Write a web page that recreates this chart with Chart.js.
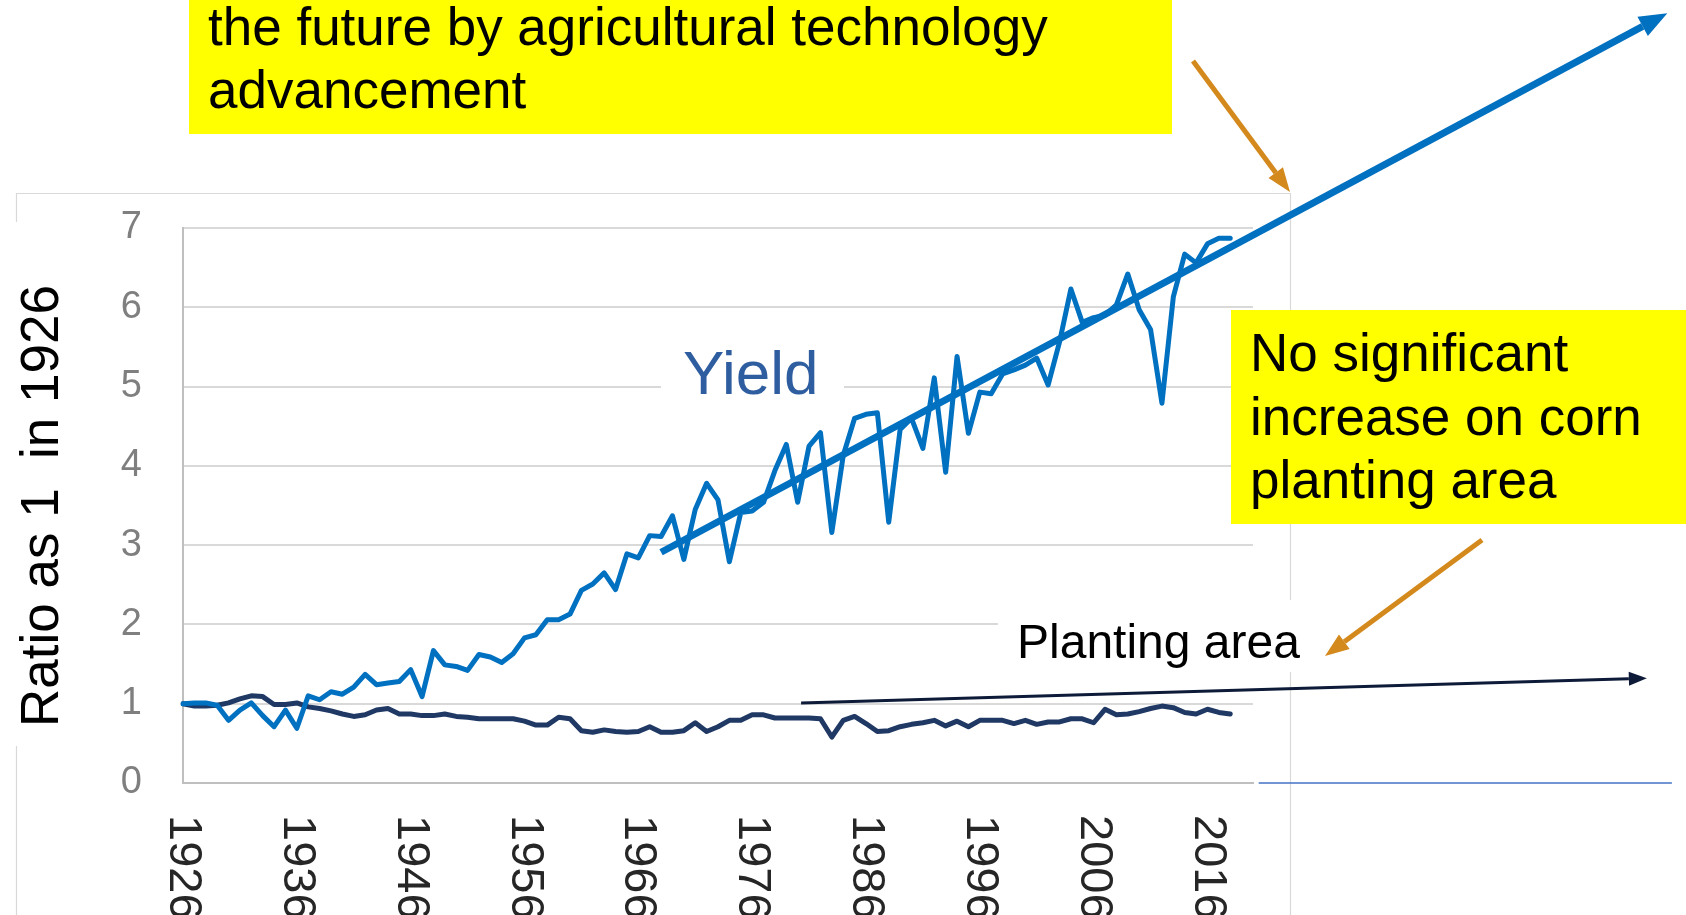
<!DOCTYPE html>
<html>
<head>
<meta charset="utf-8">
<script src="https://cdn.jsdelivr.net/npm/chart.js@4.4.1/dist/chart.umd.min.js"></script>
<style>
html,body{margin:0;padding:0;background:#ffffff;}
#wrap{position:relative;width:1686px;height:915px;overflow:hidden;}
canvas{display:block;}
</style>
</head>
<body>
<div id="wrap"><canvas id="c" width="1686" height="915"></canvas></div>
<script>
// ---- categories (x axis runs 1926 .. 2020) ----
const years = ['1926','1927','1928','1929','1930','1931','1932','1933','1934','1935',
  '1936','1937','1938','1939','1940','1941','1942','1943','1944','1945',
  '1946','1947','1948','1949','1950','1951','1952','1953','1954','1955',
  '1956','1957','1958','1959','1960','1961','1962','1963','1964','1965',
  '1966','1967','1968','1969','1970','1971','1972','1973','1974','1975',
  '1976','1977','1978','1979','1980','1981','1982','1983','1984','1985',
  '1986','1987','1988','1989','1990','1991','1992','1993','1994','1995',
  '1996','1997','1998','1999','2000','2001','2002','2003','2004','2005',
  '2006','2007','2008','2009','2010','2011','2012','2013','2014','2015',
  '2016','2017','2018','2019','2020'];

// ---- series: ratio to 1926 (1926 .. 2018) ----
const yieldRatio = [1.00,1.01,1.01,0.98,0.79,0.92,1.01,0.85,0.71,0.92,
  0.69,1.10,1.05,1.15,1.12,1.21,1.37,1.24,1.26,1.28,
  1.43,1.09,1.67,1.49,1.47,1.42,1.62,1.59,1.52,1.63,
  1.83,1.87,2.06,2.06,2.13,2.43,2.51,2.65,2.44,2.89,
  2.84,3.12,3.11,3.37,2.82,3.45,3.78,3.57,2.79,3.41,
  3.43,3.54,3.94,4.27,3.54,4.25,4.42,3.16,4.13,4.60,
  4.65,4.67,3.29,4.46,4.60,4.22,5.11,3.92,5.38,4.41,
  4.93,4.91,5.16,5.21,5.27,5.36,5.02,5.56,6.23,5.81,
  5.87,5.90,6.03,6.42,5.97,5.72,4.79,6.13,6.67,6.56,
  6.80,6.87,6.87];

const areaRatio = [1.00,0.97,0.97,0.98,1.01,1.06,1.10,1.09,0.99,0.99,
  1.01,0.96,0.94,0.91,0.87,0.84,0.86,0.92,0.94,0.87,
  0.87,0.85,0.85,0.87,0.84,0.83,0.81,0.81,0.81,0.81,
  0.78,0.73,0.73,0.83,0.81,0.66,0.64,0.67,0.65,0.64,
  0.65,0.71,0.64,0.64,0.66,0.76,0.65,0.71,0.79,0.79,
  0.86,0.86,0.82,0.82,0.82,0.82,0.81,0.58,0.79,0.84,
  0.75,0.65,0.66,0.71,0.74,0.76,0.79,0.72,0.78,0.71,
  0.79,0.79,0.79,0.75,0.79,0.74,0.77,0.77,0.81,0.81,
  0.76,0.93,0.86,0.87,0.90,0.94,0.97,0.95,0.89,0.87,
  0.93,0.89,0.87];

// ---- tick labels ----
const yTickValues = [0,1,2,3,4,5,6,7];
const xTickLabels = ['1926','1936','1946','1956','1966','1976','1986','1996','2006','2016'];

// ---- annotation lines, in data units [year, ratio] ----
const trendFrom = [1968, 2.91];
const trendTo   = [2056.4, 9.71];
const areaArrowFrom = [1980.3, 1.01];
const areaArrowTo   = [2054.6, 1.32];
const axisExtFrom = [2020.5, 0];
const axisExtTo   = [2056.8, 0];

const FONT = '"Liberation Sans", Arial, Helvetica, sans-serif';

function arrow(ctx, x1, y1, x2, y2, color, w, headL, headW) {
  const a = Math.atan2(y2 - y1, x2 - x1);
  const bx = x2 - headL * Math.cos(a), by = y2 - headL * Math.sin(a);
  ctx.save();
  ctx.strokeStyle = color; ctx.fillStyle = color; ctx.lineWidth = w; ctx.lineCap = 'butt';
  ctx.beginPath(); ctx.moveTo(x1, y1); ctx.lineTo(bx, by); ctx.stroke();
  ctx.beginPath();
  ctx.moveTo(x2, y2);
  ctx.lineTo(bx + headW / 2 * Math.sin(a), by - headW / 2 * Math.cos(a));
  ctx.lineTo(bx - headW / 2 * Math.sin(a), by + headW / 2 * Math.cos(a));
  ctx.closePath(); ctx.fill();
  ctx.restore();
}

const decor = {
  id: 'decor',
  beforeDraw(chart) {
    const ctx = chart.ctx;
    ctx.save();
    ctx.fillStyle = '#ffffff';
    ctx.fillRect(0, 0, chart.width, chart.height);
    // outer chart frame
    ctx.strokeStyle = '#D9D9D9'; ctx.lineWidth = 1.2;
    ctx.beginPath();
    ctx.moveTo(16.5, 915); ctx.lineTo(16.5, 193.5); ctx.lineTo(1290.5, 193.5); ctx.lineTo(1290.5, 915);
    ctx.stroke();
    ctx.restore();
  },
  afterDraw(chart) {
    const ctx = chart.ctx;
    const xs = chart.scales.x, ys = chart.scales.y;
    const px = y => xs.getPixelForValue(y - 1926);
    const py = v => ys.getPixelForValue(v);
    ctx.save();

    // y tick labels
    ctx.font = '38px ' + FONT;
    ctx.fillStyle = '#7F7F7F';
    ctx.textAlign = 'right'; ctx.textBaseline = 'middle';
    yTickValues.forEach(v => ctx.fillText(String(v), 142, py(v)));

    // x tick labels, rotated clockwise
    ctx.font = '47px ' + FONT;
    ctx.fillStyle = '#262626';
    xTickLabels.forEach(lbl => {
      const x = xs.getPixelForValue(years.indexOf(lbl));
      ctx.save();
      ctx.translate(x, 815);
      ctx.rotate(Math.PI / 2);
      ctx.textAlign = 'left'; ctx.textBaseline = 'middle';
      ctx.fillText(lbl, 0, 0);
      ctx.restore();
    });

    // y axis title with white backing
    ctx.fillStyle = '#ffffff';
    ctx.fillRect(4, 222, 76, 524);
    ctx.save();
    ctx.translate(43, 506);
    ctx.rotate(-Math.PI / 2);
    ctx.font = '53px ' + FONT;
    ctx.fillStyle = '#000000';
    ctx.textAlign = 'center'; ctx.textBaseline = 'middle';
    ctx.fillText('Ratio as 1  in 1926', 0, 0);
    ctx.restore();

    // trend arrow
    arrow(ctx, px(trendFrom[0]), py(trendFrom[1]), px(trendTo[0]), py(trendTo[1]), '#0070C0', 7, 28, 22);

    // thin blue axis extension
    ctx.strokeStyle = '#4472C4'; ctx.lineWidth = 1.5;
    ctx.beginPath(); ctx.moveTo(px(axisExtFrom[0]), py(axisExtFrom[1])); ctx.lineTo(px(axisExtTo[0]), py(axisExtTo[1])); ctx.stroke();

    // "Yield" label
    ctx.fillStyle = '#ffffff';
    ctx.fillRect(661, 335, 183, 80);
    ctx.font = '62px ' + FONT;
    ctx.fillStyle = '#2E5DA0';
    ctx.textAlign = 'left'; ctx.textBaseline = 'alphabetic';
    ctx.fillText('Yield', 683, 394);

    // "Planting area" label
    ctx.fillStyle = '#ffffff';
    ctx.fillRect(998, 600, 312, 72);
    ctx.font = '48px ' + FONT;
    ctx.fillStyle = '#000000';
    ctx.fillText('Planting area', 1017, 658);

    // planting area arrow
    arrow(ctx, px(areaArrowFrom[0]), py(areaArrowFrom[1]), px(areaArrowTo[0]), py(areaArrowTo[1]), '#0D1A38', 3, 18, 14);

    // top yellow note
    ctx.fillStyle = '#FFFF00';
    ctx.fillRect(189, 0, 983, 134);
    ctx.fillStyle = '#000000';
    ctx.font = '53px ' + FONT;
    ctx.fillText('the future by agricultural technology', 208, 45);
    ctx.fillText('advancement', 208, 108);

    // right yellow note
    ctx.fillStyle = '#FFFF00';
    ctx.fillRect(1231, 310, 455, 214);
    ctx.fillStyle = '#000000';
    ctx.font = '53px ' + FONT;
    ctx.fillText('No significant', 1250, 371);
    ctx.fillText('increase on corn', 1250, 435);
    ctx.fillText('planting area', 1250, 498);

    // orange pointers
    arrow(ctx, 1193, 61, 1290, 192, '#D4891C', 5, 24, 18);
    arrow(ctx, 1482, 540, 1325, 656, '#D4891C', 5, 24, 18);

    ctx.restore();
  }
};

new Chart(document.getElementById('c'), {
  type: 'line',
  data: {
    labels: years,
    datasets: [
      { label: 'Yield', data: yieldRatio, borderColor: '#0070C0', borderWidth: 5, borderJoinStyle: 'round', borderCapStyle: 'round', pointRadius: 0, tension: 0, fill: false },
      { label: 'Planting area', data: areaRatio, borderColor: '#1F3864', borderWidth: 5, borderJoinStyle: 'round', borderCapStyle: 'round', pointRadius: 0, tension: 0, fill: false }
    ]
  },
  options: {
    responsive: false,
    animation: false,
    devicePixelRatio: 1,
    layout: { padding: { left: 183, top: 228, right: 433, bottom: 132 } },
    plugins: { legend: { display: false }, tooltip: { enabled: false } },
    scales: {
      x: {
        type: 'category',
        offset: false,
        ticks: { display: false },
        grid: { display: false, drawTicks: false },
        border: { display: true, color: '#BFBFBF', width: 2 }
      },
      y: {
        min: 0, max: 7,
        ticks: { display: false, stepSize: 1 },
        grid: { color: '#D9D9D9', lineWidth: 2, drawTicks: false },
        border: { display: true, color: '#BFBFBF', width: 2 }
      }
    }
  },
  plugins: [decor]
});
</script>
</body>
</html>
